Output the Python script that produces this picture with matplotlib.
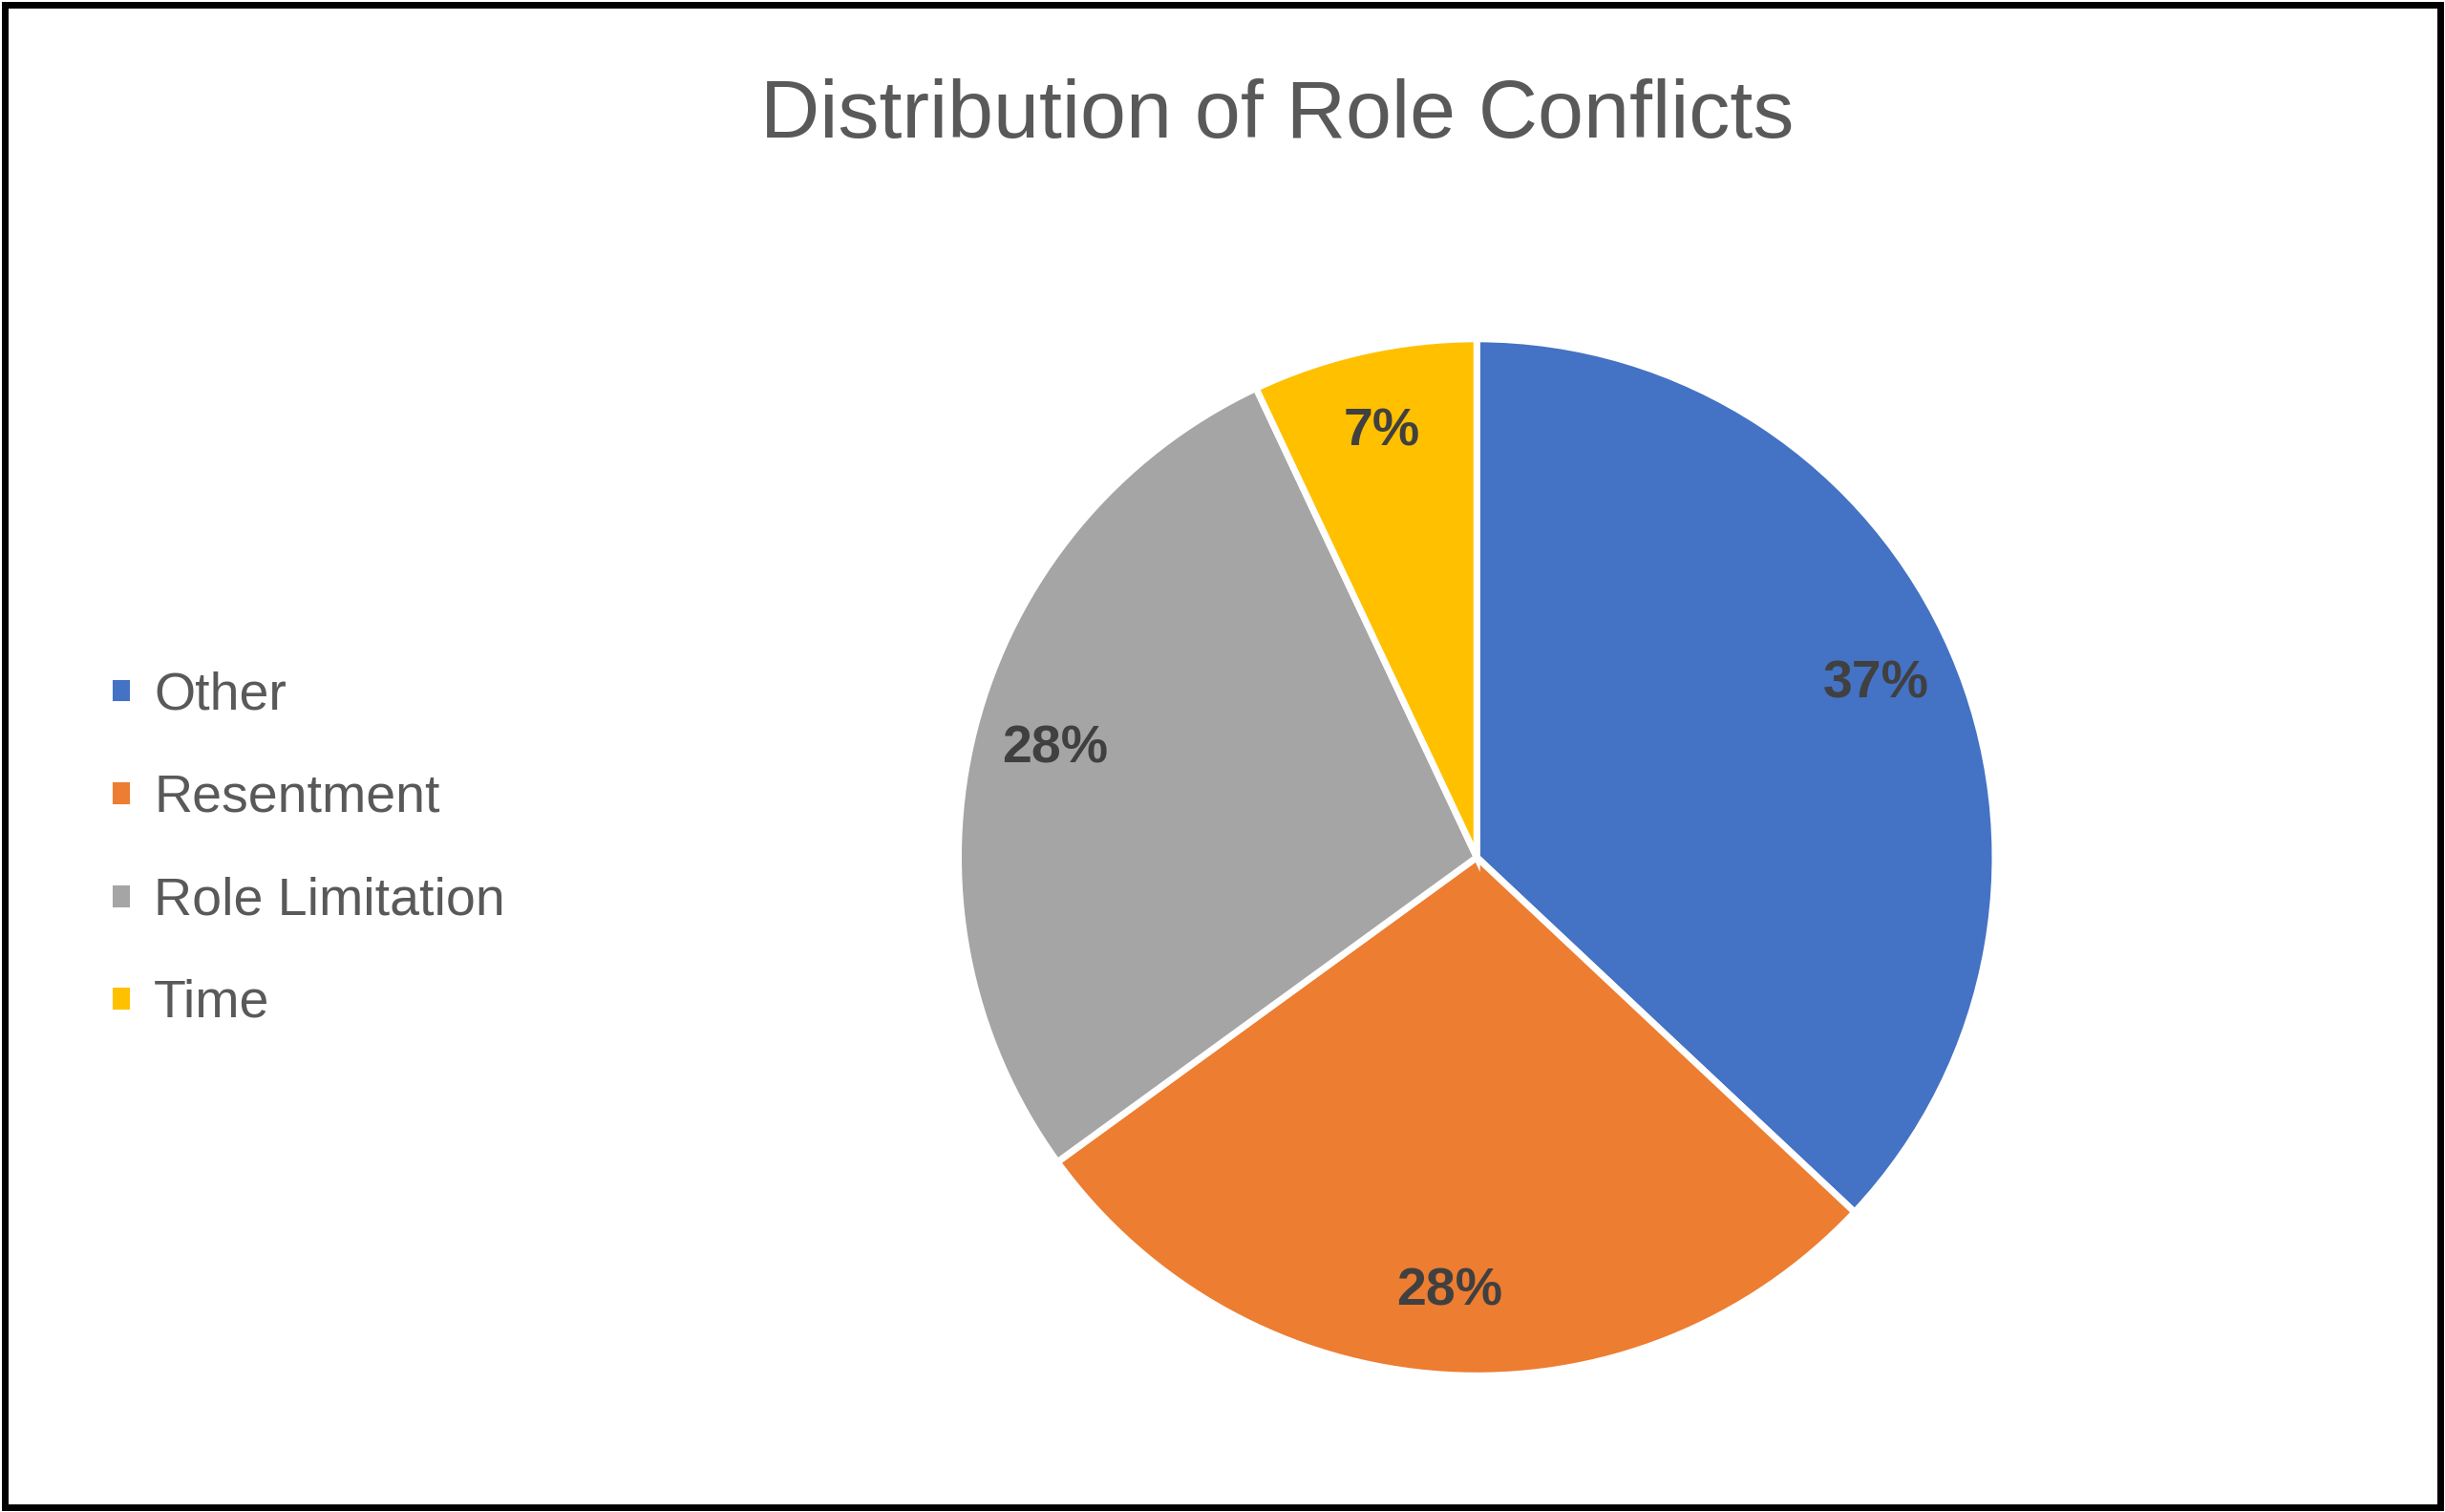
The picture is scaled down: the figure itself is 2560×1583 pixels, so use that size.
import matplotlib
matplotlib.use("Agg")
import matplotlib.pyplot as plt
from matplotlib.patches import Rectangle

plt.rcParams['font.family'] = ['Liberation Sans', 'DejaVu Sans']

categories = ["Other", "Resentment", "Role Limitation", "Time"]
values = [37, 28, 28, 7]
colors = ["#4472C4", "#ED7D31", "#A5A5A5", "#FFC000"]

fig = plt.figure(figsize=(25.6, 15.83), dpi=100)
ax = fig.add_axes([0.339, 0.004, 0.530, 0.858])
wedges, texts, autotexts = ax.pie(values, colors=colors, startangle=90, counterclock=False,
       autopct="%d%%", pctdistance=0.84,
       wedgeprops=dict(edgecolor="white", linewidth=5),
       textprops=dict(fontsize=40, fontweight="bold", color="#404040"))
ax.set_aspect("equal")

fig.text(0.5225, 0.923, "Distribution of Role Conflicts", ha="center", va="center",
         fontsize=62, color="#595959")

fig.legend(wedges, categories, loc="center left", bbox_to_anchor=(0.025, 0.438),
           frameon=False, fontsize=40, labelcolor="#595959", handlelength=0.45,
           handleheight=0.45, handletextpad=0.4, labelspacing=1.0)

fig.patches.append(Rectangle((0.002, 0.003), 0.996, 0.994, transform=fig.transFigure,
                             fill=False, edgecolor="black", linewidth=5))
fig.savefig("out.png", dpi=100)
